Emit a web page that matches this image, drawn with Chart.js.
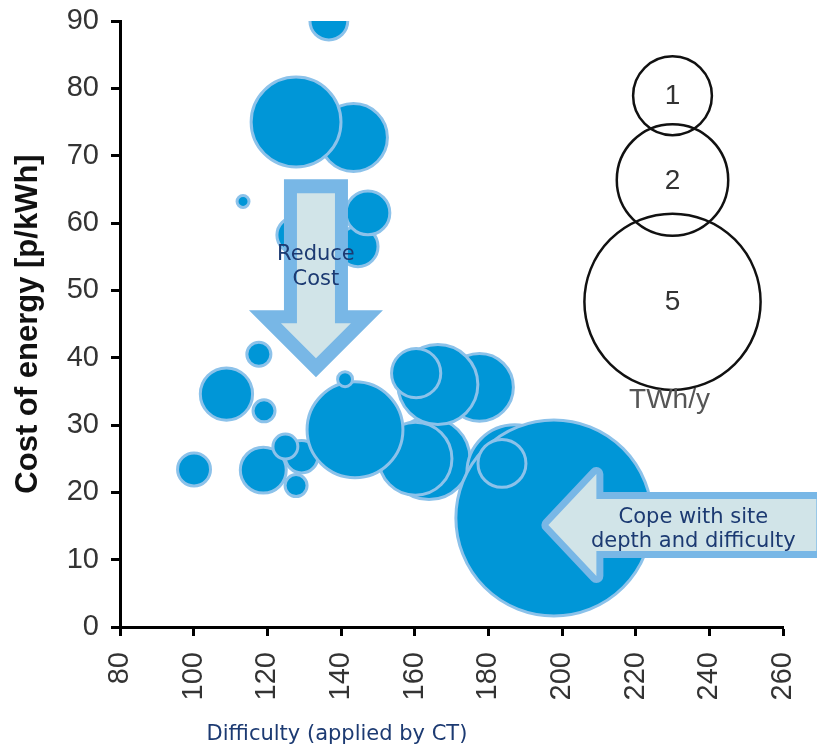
<!DOCTYPE html>
<html>
<head>
<meta charset="utf-8">
<script src="https://cdn.jsdelivr.net/npm/chart.js@4.4.1/dist/chart.umd.min.js"></script>
<style>
  html, body { margin: 0; padding: 0; background: #ffffff; }
  canvas { display: block; }
</style>
</head>
<body>
<canvas id="chart" width="817" height="745"></canvas>
<script>
// Sites: difficulty (CT), cost of energy (p/kWh), annual energy (TWh/y).
// Listed in drawing order: later entries sit on top of earlier ones.
const siteDifficulty = [136.7, 113.4, 143.4, 127.8, 144.6, 147.3, 127.5, 117.7, 108.9, 119.1,
                        100.1, 129.3, 118.9, 124.9, 127.8, 177.6, 163.9, 160.2, 143.8, 141.1,
                        166.3, 160.4, 187.2, 197.8, 183.7];
const siteCost       = [90.0, 63.2, 72.7, 75.0, 56.5, 61.5, 58.2, 40.5, 34.6, 32.1,
                        23.4, 25.3, 23.3, 26.8, 21.0, 35.6, 25.0, 25.0, 29.3, 36.8,
                        36.0, 37.7, 22.9, 16.2, 24.3];
const siteEnergy     = [0.23, 0.023, 0.74, 1.30, 0.26, 0.31, 0.21, 0.093, 0.44, 0.078,
                        0.175, 0.17, 0.34, 0.10, 0.078, 0.74, 1.08, 0.86, 1.48, 0.036,
                        1.03, 0.39, 1.48, 6.19, 0.37];

// Size key
const keyEnergy     = [1, 2, 5];
const keyDifficulty = [230, 230, 230];
const keyCost       = [78.9, 66.4, 48.3];
const keyUnit = 'TWh/y';

// Axes
const xMin = 80, xMax = 260, xStep = 20;
const yMin = 0, yMax = 90, yStep = 10;
const xTitle = 'Difficulty (applied by CT)';
const yTitle = 'Cost of energy [p/kWh]';

// Arrow captions
const costCaption = ['Reduce', 'Cost'];
const depthCaption = ['Cope with site', 'depth and difficulty'];

// Bubble radius in pixels for 1 TWh/y (area proportional to energy)
const PX_PER_ROOT_TWH = 39.4;
const toBubble = (x, y, v) => ({ x: x, y: y, r: PX_PER_ROOT_TWH * Math.sqrt(v) });

const siteData = siteDifficulty.map((d, i) => toBubble(d, siteCost[i], siteEnergy[i]));
const keyData = keyDifficulty.map((d, i) => toBubble(d, keyCost[i], keyEnergy[i]));

const NAVY = '#1c3a72';
const ARROW_EDGE = '#78b7e6';
const ARROW_FILL = '#d1e4e8';

function fillPoly(ctx, ox, oy, pts, color) {
  ctx.beginPath();
  pts.forEach(([dx, dy], i) => i ? ctx.lineTo(ox + dx, oy + dy) : ctx.moveTo(ox + dx, oy + dy));
  ctx.closePath();
  ctx.fillStyle = color;
  ctx.fill();
}

const overlay = {
  id: 'overlay',
  afterDatasetsDraw(chart) {
    const { ctx, scales: { x, y } } = chart;
    ctx.save();

    // Downward "Reduce Cost" arrow, anchored at its tip
    const tx = x.getPixelForValue(133.2), ty = y.getPixelForValue(37.1);
    fillPoly(ctx, tx, ty, [[-32, -198], [32, -198], [32, -67], [67, -67], [0, 0], [-67, -67], [-32, -67]], ARROW_EDGE);
    fillPoly(ctx, tx, ty, [[-19, -184], [19, -184], [19, -54], [35, -54], [0, -19], [-35, -54], [-19, -54]], ARROW_FILL);

    // Leftward "Cope with site depth" arrow, anchored at its tip
    const lx = x.getPixelForValue(196.3), ly = y.getPixelForValue(15.15);
    ctx.beginPath();
    [[0, 0], [48, -51], [48, -26], [268, -26], [268, 26], [48, 26], [48, 51]]
      .forEach(([dx, dy], i) => i ? ctx.lineTo(lx + dx, ly + dy) : ctx.moveTo(lx + dx, ly + dy));
    ctx.closePath();
    ctx.lineJoin = 'round';
    ctx.lineWidth = 14;
    ctx.strokeStyle = ARROW_EDGE;
    ctx.stroke();
    ctx.fillStyle = ARROW_FILL;
    ctx.fill();

    ctx.fillStyle = NAVY;
    ctx.font = '21px "DejaVu Sans", Verdana, sans-serif';
    ctx.textAlign = 'center';
    ctx.textBaseline = 'alphabetic';
    ctx.fillText(costCaption[0], tx, ty - 117);
    ctx.fillText(costCaption[1], tx, ty - 92);
    ctx.fillText(depthCaption[0], lx + 145, ly - 2);
    ctx.fillText(depthCaption[1], lx + 145, ly + 22);

    // Size key labels
    ctx.fillStyle = '#333333';
    ctx.font = '28px "Liberation Sans", Arial, sans-serif';
    ctx.textBaseline = 'middle';
    keyData.forEach((p, i) => {
      ctx.fillText(String(keyEnergy[i]), x.getPixelForValue(p.x), y.getPixelForValue(p.y) + 1);
    });
    const last = keyData[keyData.length - 1];
    ctx.textBaseline = 'alphabetic';
    ctx.fillStyle = '#555555';
    ctx.fillText(keyUnit, x.getPixelForValue(last.x) - 3, y.getPixelForValue(last.y) + last.r + 18);
    ctx.restore();
  },
  afterDraw(chart) {
    const { ctx, chartArea } = chart;
    ctx.save();
    // x-axis title
    ctx.fillStyle = NAVY;
    ctx.font = '21px "DejaVu Sans", Verdana, sans-serif';
    ctx.textAlign = 'center';
    ctx.textBaseline = 'alphabetic';
    ctx.fillText(xTitle, 337, 740);
    // y-axis title
    ctx.translate(37, (chartArea.top + chartArea.bottom) / 2);
    ctx.rotate(-Math.PI / 2);
    ctx.fillStyle = '#111111';
    ctx.font = 'bold 31px "Liberation Sans", Arial, sans-serif';
    ctx.textBaseline = 'alphabetic';
    ctx.fillText(yTitle, 0, 0);
    ctx.restore();
  }
};

const tickFont = { family: '"Liberation Sans", Arial, sans-serif', size: 29 };

new Chart(document.getElementById('chart'), {
  type: 'bubble',
  data: {
    datasets: [
      {
        label: 'Sites',
        data: siteData,
        backgroundColor: '#0096d7',
        borderColor: '#8cc2ea',
        borderWidth: 3,
        clip: 0
      },
      {
        label: keyUnit,
        data: keyData,
        backgroundColor: 'rgba(0,0,0,0)',
        borderColor: '#111111',
        borderWidth: 2.5
      }
    ]
  },
  options: {
    responsive: false,
    animation: false,
    events: [],
    layout: { autoPadding: false, padding: { top: 21, right: 34, left: 0, bottom: 0 } },
    plugins: {
      legend: { display: false },
      tooltip: { enabled: false }
    },
    scales: {
      x: {
        type: 'linear',
        min: xMin,
        max: xMax,
        afterFit(scale) {
          scale.height = 118;
          scale.paddingLeft = 0;
          scale.paddingRight = 0;
        },
        ticks: {
          stepSize: xStep,
          minRotation: 90,
          maxRotation: 90,
          padding: 16,
          color: '#333333',
          font: tickFont
        },
        grid: { drawOnChartArea: false, tickLength: 9, tickWidth: 3, tickColor: '#000000' },
        border: { color: '#000000', width: 3 }
      },
      y: {
        type: 'linear',
        min: yMin,
        max: yMax,
        afterFit(scale) {
          scale.width = 120;
          scale.paddingTop = 0;
          scale.paddingBottom = 0;
        },
        ticks: {
          stepSize: yStep,
          padding: 12,
          color: '#333333',
          font: tickFont
        },
        grid: { drawOnChartArea: false, tickLength: 9, tickWidth: 3, tickColor: '#000000' },
        border: { color: '#000000', width: 3 }
      }
    }
  },
  plugins: [overlay]
});
</script>
</body>
</html>
